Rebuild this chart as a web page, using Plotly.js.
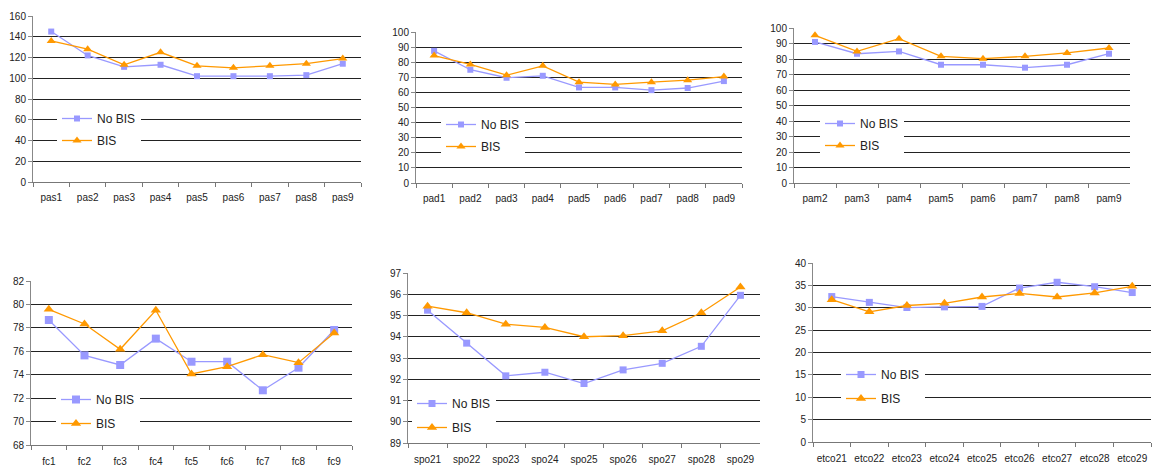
<!DOCTYPE html>
<html><head><meta charset="utf-8">
<script src="https://cdn.plot.ly/plotly-3.0.1.min.js"></script>
<style>html,body{margin:0;padding:0;background:#fff}#chart{width:1153px;height:466px}</style>
</head><body><div id="chart"></div>
<script>
// ---- DATA ----
const pasCats = ["pas1","pas2","pas3","pas4","pas5","pas6","pas7","pas8","pas9"];
const pasNoBis = [145,122,111,113,102,102,102,103,114];
const pasBis = [136,128,113,125,112,110,112,114,119];

const padCats = ["pad1","pad2","pad3","pad4","pad5","pad6","pad7","pad8","pad9"];
const padNoBis = [87.5,75,69.7,71,63.3,63.3,61.5,62.9,67.5];
const padBis = [84.4,78.5,71.4,77.6,66.8,65.3,66.8,68.1,70.5];

const pamCats = ["pam2","pam3","pam4","pam5","pam6","pam7","pam8","pam9"];
const pamNoBis = [91,83.4,84.9,76.3,76.3,74.4,76.3,83.4];
const pamBis = [95.3,84.9,93.1,81.7,80.2,81.7,83.9,87.1];

const fcCats = ["fc1","fc2","fc3","fc4","fc5","fc6","fc7","fc8","fc9"];
const fcNoBis = [78.67,75.65,74.83,77.08,75.11,75.11,72.67,74.6,77.82];
const fcBis = [79.58,78.33,76.17,79.5,74.06,74.69,75.71,75.03,77.56];

const spoCats = ["spo21","spo22","spo23","spo24","spo25","spo26","spo27","spo28","spo29"];
const spoNoBis = [95.25,93.7,92.16,92.33,91.8,92.44,92.75,93.55,95.95];
const spoBis = [95.44,95.13,94.59,94.44,94.0,94.05,94.28,95.13,96.34];

const etcoCats = ["etco21","etco22","etco23","etco24","etco25","etco26","etco27","etco28","etco29"];
const etcoNoBis = [32.5,31.2,30.05,30.2,30.3,34.4,35.7,34.7,33.4];
const etcoBis = [31.8,29.1,30.5,31.0,32.4,33.2,32.4,33.3,34.8];

const seriesNames = ["No BIS","BIS"];

// ---- LAYOUT / STYLE ----
const W = 1153, H = 466;
const FONT = "Liberation Sans, Arial, sans-serif";
const panels = [
  {cats: pasCats, a: pasNoBis, b: pasBis, range:[0,160], dtick:20, box:[33,361,16,182], leg:[57,104], ms:[6,8], lab:6, gap:3},
  {cats: padCats, a: padNoBis, b: padBis, range:[0,100], dtick:10, box:[416,742,32,183], leg:[441,110], ms:[6,8], lab:6, gap:3},
  {cats: pamCats, a: pamNoBis, b: pamBis, range:[0,100], dtick:10, box:[794,1130,28,183], leg:[820,109], ms:[6,8], lab:6, gap:3},
  {cats: fcCats, a: fcNoBis, b: fcBis, range:[68,82], dtick:2, box:[31,352,281,445], leg:[56,385], ms:[8,9], lab:7, gap:5},
  {cats: spoCats, a: spoNoBis, b: spoBis, range:[89,97], dtick:1, box:[408,760,273,443], leg:[412,389], ms:[7,9], lab:7, gap:5},
  {cats: etcoCats, a: etcoNoBis, b: etcoBis, range:[0,40], dtick:5, box:[813,1151,263,442], leg:[841,360], ms:[7,9], lab:7, gap:5}
];

const data = [];
const layout = {
  width: W, height: H,
  margin: {l:0, r:0, t:0, b:0},
  paper_bgcolor: "#fff", plot_bgcolor: "#fff",
  font: {family: FONT, size: 10, color: "#222"},
  showlegend: true
};

panels.forEach((p, i) => {
  const n = i === 0 ? "" : String(i + 1);
  const legName = "legend" + n;
  const [x0, x1, y0, y1] = p.box;
  data.push({
    type: "scatter", mode: "lines+markers", x: p.cats, y: p.a, name: seriesNames[0],
    xaxis: "x" + n, yaxis: "y" + n, legend: legName, legendgroup: "a" + i,
    line: {color: "#9999FF", width: 1.3},
    marker: {symbol: "square", size: p.ms[0], color: "#9999FF"}
  });
  data.push({
    type: "scatter", mode: "lines+markers", x: p.cats, y: p.b, name: seriesNames[1],
    xaxis: "x" + n, yaxis: "y" + n, legend: legName, legendgroup: "b" + i,
    line: {color: "#FF9900", width: 1.3},
    marker: {symbol: "triangle-up", size: p.ms[1], color: "#FF9900"}
  });
  layout["xaxis" + n] = {
    domain: [x0 / W, x1 / W], anchor: "y" + n,
    type: "category", range: [-0.5, p.cats.length - 0.5],
    showgrid: false, zeroline: false, showline: true, linecolor: "#777", linewidth: 1,
    ticks: "outside", tickson: "boundaries", ticklen: 4, tickcolor: "#777",
    tickangle: 0, automargin: false,
    ticklabelstandoff: p.lab, tickfont: {size: 10, color: "#222"}, fixedrange: true
  };
  layout["yaxis" + n] = {
    domain: [1 - y1 / H, 1 - y0 / H], anchor: "x" + n,
    range: p.range, dtick: p.dtick, tick0: 0,
    showgrid: true, gridcolor: "#222", gridwidth: 1, zeroline: false,
    showline: true, linecolor: "#888", linewidth: 1,
    ticks: "outside", ticklen: 4, tickcolor: "#888",
    tickfont: {size: 10, color: "#222"}, fixedrange: true
  };
  layout[legName] = {
    x: p.leg[0] / W, y: 1 - p.leg[1] / H, xanchor: "left", yanchor: "top",
    bgcolor: "#fff", borderwidth: 0, font: {family: FONT, size: 12, color: "#222"},
    traceorder: "grouped", tracegroupgap: p.gap, itemclick: false, itemdoubleclick: false
  };
});

Plotly.newPlot("chart", data, layout, {displayModeBar: false, staticPlot: true});
</script></body></html>
